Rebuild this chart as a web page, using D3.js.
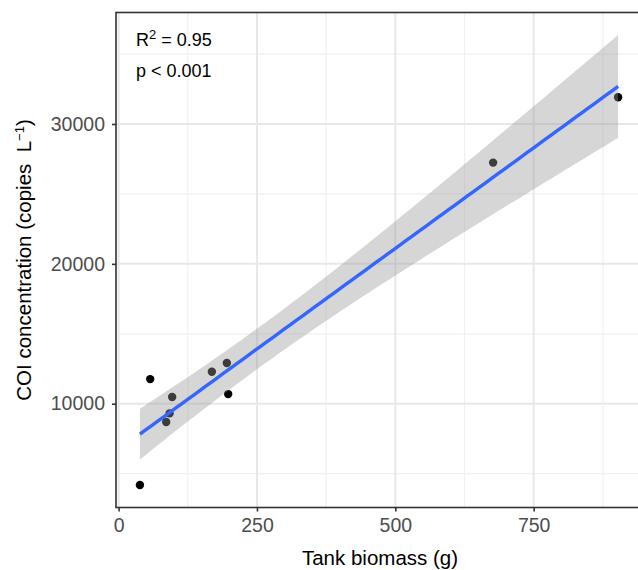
<!DOCTYPE html>
<html>
<head>
<meta charset="utf-8">
<script src="https://cdn.jsdelivr.net/npm/d3@7"></script>
<style>
    body { margin: 0; background: #fff; }
    svg { display: block; font-family: "Liberation Sans", Arial, sans-serif; }
</style>
</head>
<body>
<div id="chart"></div>
<script>
let biomass = [38.5, 57.1, 86.0, 92.1, 96.8, 168.5, 195.6, 198.0, 676.7, 902.5]
let coi = [4190, 11760, 8690, 9310, 10480, 12290, 12910, 10690, 27240, 31910]

let xTicks = [0, 250, 500, 750]
let xMinor = [125, 375, 625, 875]
let yTicks = [10000, 20000, 30000]
let yMinor = [5000, 15000, 25000, 35000]

let rSquared = "0.95"
let pLabel = "0.001"

let width = 638
let height = 570
let panel = { left: 116, right: 642, top: 12.5, bottom: 507.5 }

// linear fit + 95% band, same as geom_smooth(method = "lm")
let n = biomass.length
let mx = d3.mean(biomass)
let my = d3.mean(coi)
let sxx = d3.sum(biomass, d => (d - mx) ** 2)
let sxy = d3.sum(biomass, (d, i) => (d - mx) * (coi[i] - my))
let slope = sxy / sxx
let intercept = my - slope * mx
let sse = d3.sum(biomass, (d, i) => (coi[i] - (intercept + slope * d)) ** 2)
let se = Math.sqrt(sse / (n - 2))
let tCrit = 2.306 // t(0.975, df = 8)

let xMin = d3.min(biomass)
let xMax = d3.max(biomass)
let fit = d3.range(80).map(i => {
    let x = xMin + (xMax - xMin) * i / 79
    let yhat = intercept + slope * x
    let half = tCrit * se * Math.sqrt(1 / n + (x - mx) ** 2 / sxx)
    return { x: x, y: yhat, lo: yhat - half, hi: yhat + half }
})

let xr = xMax - xMin
let yLo = Math.min(d3.min(coi), d3.min(fit, d => d.lo))
let yHi = Math.max(d3.max(coi), d3.max(fit, d => d.hi))
let yr = yHi - yLo

let x = d3.scaleLinear()
    .domain([xMin - 0.05 * xr, xMax + 0.05 * xr])
    .range([panel.left, panel.right])
let y = d3.scaleLinear()
    .domain([yLo - 0.05 * yr, yHi + 0.05 * yr])
    .range([panel.bottom, panel.top])

let svg = d3.select("#chart")
    .append("svg")
    .attr("width", width)
    .attr("height", height)

// grid
svg.selectAll(".xminor").data(xMinor).enter().append("line")
    .attr("x1", d => x(d)).attr("x2", d => x(d))
    .attr("y1", panel.top).attr("y2", panel.bottom)
    .attr("stroke", "#f0f0f0").attr("stroke-width", 1.2)
svg.selectAll(".yminor").data(yMinor).enter().append("line")
    .attr("y1", d => y(d)).attr("y2", d => y(d))
    .attr("x1", panel.left).attr("x2", panel.right)
    .attr("stroke", "#f0f0f0").attr("stroke-width", 1.2)
svg.selectAll(".xmajor").data(xTicks).enter().append("line")
    .attr("x1", d => x(d)).attr("x2", d => x(d))
    .attr("y1", panel.top).attr("y2", panel.bottom)
    .attr("stroke", "#e8e8e8").attr("stroke-width", 2)
svg.selectAll(".ymajor").data(yTicks).enter().append("line")
    .attr("y1", d => y(d)).attr("y2", d => y(d))
    .attr("x1", panel.left).attr("x2", panel.right)
    .attr("stroke", "#e8e8e8").attr("stroke-width", 2)

// points go under the ribbon
svg.selectAll(".pt").data(biomass).enter().append("circle")
    .attr("cx", d => x(d))
    .attr("cy", (d, i) => y(coi[i]))
    .attr("r", 4.2)
    .attr("fill", "#000")

svg.append("path")
    .datum(fit)
    .attr("d", d3.area().x(d => x(d.x)).y0(d => y(d.lo)).y1(d => y(d.hi)))
    .attr("fill", "#999999")
    .attr("fill-opacity", 0.4)

svg.append("path")
    .datum(fit)
    .attr("d", d3.line().x(d => x(d.x)).y(d => y(d.y)))
    .attr("fill", "none")
    .attr("stroke", "#3366FF")
    .attr("stroke-width", 3.4)

// border
svg.append("rect")
    .attr("x", panel.left).attr("y", panel.top)
    .attr("width", panel.right - panel.left)
    .attr("height", panel.bottom - panel.top)
    .attr("fill", "none")
    .attr("stroke", "#333333")
    .attr("stroke-width", 1.6)

// axes
let xAxis = svg.append("g")
    .attr("transform", "translate(0," + panel.bottom + ")")
    .call(d3.axisBottom(x).tickValues(xTicks).tickSize(4).tickPadding(7))
let yAxis = svg.append("g")
    .attr("transform", "translate(" + panel.left + ",0)")
    .call(d3.axisLeft(y).tickValues(yTicks).tickFormat(d3.format("d")).tickSize(4).tickPadding(7))
;[xAxis, yAxis].forEach(g => {
    g.select(".domain").remove()
    g.selectAll(".tick line").attr("stroke", "#333333").attr("stroke-width", 1.6)
    g.selectAll(".tick text")
        .attr("fill", "#4d4d4d")
        .style("font-size", "19.5px")
        .style("font-family", "Liberation Sans, Arial, sans-serif")
})

// titles
svg.append("text")
    .attr("x", (panel.left + width) / 2 + 3)
    .attr("y", 565)
    .attr("text-anchor", "middle")
    .style("font-size", "20.5px")
    .attr("fill", "#000")
    .text("Tank biomass (g)")

let yt = svg.append("text")
    .attr("transform", "translate(31," + (panel.top + panel.bottom) / 2 + ") rotate(-90)")
    .attr("text-anchor", "middle")
    .style("font-size", "20.5px")
    .attr("fill", "#000")
yt.append("tspan").text("COI concentration (copies \u00a0L")
yt.append("tspan").text("\u22121").attr("baseline-shift", "super").style("font-size", "13px")
yt.append("tspan").text(")")

// stats label
let r2 = svg.append("text")
    .attr("x", 136).attr("y", 46)
    .style("font-size", "18px")
    .attr("fill", "#000")
r2.append("tspan").text("R")
r2.append("tspan").text("2").attr("baseline-shift", "super").style("font-size", "13px")
r2.append("tspan").text(" = " + rSquared)

svg.append("text")
    .attr("x", 136).attr("y", 77)
    .style("font-size", "18px")
    .attr("fill", "#000")
    .text("p < " + pLabel)
</script>
</body>
</html>
